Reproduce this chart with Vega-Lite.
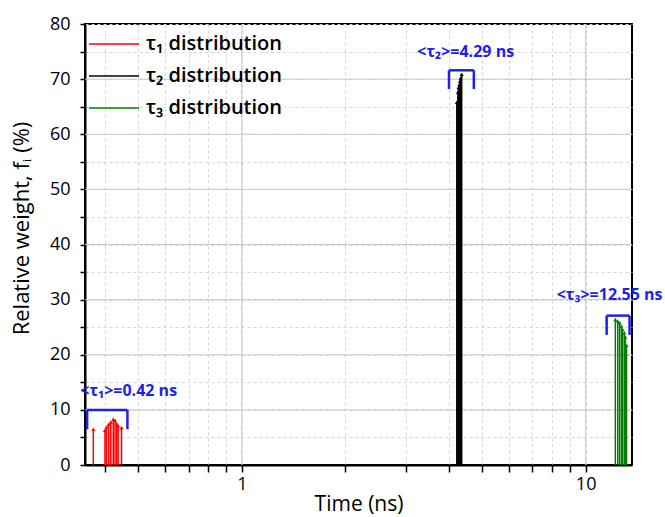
{
  "$schema": "https://vega.github.io/schema/vega-lite/v6.json",
  "width": 547,
  "height": 441,
  "autosize": "none",
  "padding": {"left": 85, "top": 24, "right": 33, "bottom": 52},
  "background": "white",
  "config": {
    "view": {"stroke": "black", "strokeWidth": 2},
    "font": "Open Sans",
    "axis": {"labelFont": "Open Sans", "titleFont": "Open Sans", "labelColor": "black", "titleColor": "black", "titleFontWeight": "normal", "tickColor": "black", "domainColor": "black"}
  },
  "datasets": {
    "spikes": [
      {"series": "τ₁ distribution", "t": 0.370, "w": 6.5},
      {"series": "τ₁ distribution", "t": 0.400, "w": 6.3},
      {"series": "τ₁ distribution", "t": 0.404, "w": 6.9},
      {"series": "τ₁ distribution", "t": 0.410, "w": 7.4},
      {"series": "τ₁ distribution", "t": 0.416, "w": 7.8},
      {"series": "τ₁ distribution", "t": 0.423, "w": 8.3},
      {"series": "τ₁ distribution", "t": 0.428, "w": 8.1},
      {"series": "τ₁ distribution", "t": 0.433, "w": 7.5},
      {"series": "τ₁ distribution", "t": 0.437, "w": 7.1},
      {"series": "τ₁ distribution", "t": 0.447, "w": 6.8},
      {"series": "τ₂ distribution", "t": 4.22, "w": 65.8},
      {"series": "τ₂ distribution", "t": 4.25, "w": 67.6},
      {"series": "τ₂ distribution", "t": 4.27, "w": 68.5},
      {"series": "τ₂ distribution", "t": 4.29, "w": 69.0},
      {"series": "τ₂ distribution", "t": 4.31, "w": 69.6},
      {"series": "τ₂ distribution", "t": 4.33, "w": 70.2},
      {"series": "τ₂ distribution", "t": 4.36, "w": 70.9},
      {"series": "τ₃ distribution", "t": 12.2, "w": 26.4},
      {"series": "τ₃ distribution", "t": 12.4, "w": 26.1},
      {"series": "τ₃ distribution", "t": 12.55, "w": 25.8},
      {"series": "τ₃ distribution", "t": 12.7, "w": 25.2},
      {"series": "τ₃ distribution", "t": 12.8, "w": 24.6},
      {"series": "τ₃ distribution", "t": 12.95, "w": 24.0},
      {"series": "τ₃ distribution", "t": 13.05, "w": 23.2},
      {"series": "τ₃ distribution", "t": 13.15, "w": 21.7}
    ],
    "majorX": [{"v": 1}, {"v": 10}],
    "majorY": [{"v": 10}, {"v": 20}, {"v": 30}, {"v": 40}, {"v": 50}, {"v": 60}, {"v": 70}],
    "brackets": [
      {"x": 0.355, "x2": 0.465, "y": 10, "y2": 10},
      {"x": 0.355, "x2": 0.355, "y": 6.5, "y2": 10},
      {"x": 0.465, "x2": 0.465, "y": 6.5, "y2": 10},
      {"x": 4.005, "x2": 4.73, "y": 71.6, "y2": 71.6},
      {"x": 4.005, "x2": 4.005, "y": 68.2, "y2": 71.6},
      {"x": 4.73, "x2": 4.73, "y": 68.2, "y2": 71.6},
      {"x": 11.51, "x2": 13.42, "y": 27.1, "y2": 27.1},
      {"x": 11.51, "x2": 11.51, "y": 23.6, "y2": 27.1},
      {"x": 13.42, "x2": 13.42, "y": 23.6, "y2": 27.1}
    ],
    "labels": [
      {"t": 0.469, "w": 13.5, "label": "<τ₁>=0.42 ns"},
      {"t": 4.48, "w": 75.0, "label": "<τ₂>=4.29 ns"},
      {"t": 11.74, "w": 30.8, "label": "<τ₃>=12.55 ns"}
    ]
  },
  "layer": [
    {
      "data": {"name": "majorX"},
      "mark": {"type": "rule", "color": "#c8c8c8", "strokeWidth": 1},
      "encoding": {
        "x": {"field": "v", "type": "quantitative"}
      }
    },
    {
      "data": {"name": "majorY"},
      "mark": {"type": "rule", "color": "#c8c8c8", "strokeWidth": 1},
      "encoding": {
        "y": {"field": "v", "type": "quantitative"}
      }
    },
    {
      "data": {"name": "spikes"},
      "mark": {"type": "rule", "strokeWidth": 1.5},
      "encoding": {
        "x": {"field": "t", "type": "quantitative",
          "scale": {"type": "log", "domain": [0.35, 13.64], "nice": false},
          "axis": {"orient": "bottom", "values": [0.4, 0.5, 0.6, 0.7, 0.8, 0.9, 1, 2, 3, 4, 5, 6, 7, 8, 9, 10], "tickCount": 100,
            "labelExpr": "datum.value == 1 || datum.value == 10 ? datum.value : ''",
            "title": "Time (ns)", "titleFontSize": 21, "titlePadding": 0,
            "labelFontSize": 18, "labelPadding": 3, "tickWidth": 1.5, "domainWidth": 2, "tickSize": 7,
            "grid": true, "gridWidth": 1, "gridColor": "#d6d6d6", "gridDash": [3, 3]}},
        "y": {"field": "w", "type": "quantitative",
          "scale": {"domain": [0, 80], "nice": false},
          "axis": {"orient": "left", "values": [0, 5, 10, 15, 20, 25, 30, 35, 40, 45, 50, 55, 60, 65, 70, 75, 80], "tickCount": 100,
            "labelExpr": "datum.value % 10 == 0 ? datum.value : ''",
            "title": "Relative weight, fᵢ (%)", "titleFontSize": 22, "titlePadding": 16, "titleY": 204,
            "labelFontSize": 18, "labelPadding": 10, "tickWidth": 1.5, "domainWidth": 2, "tickSize": 5,
            "grid": true, "gridWidth": 1, "gridColor": "#d6d6d6", "gridDash": [3, 3]}},
        "y2": {"datum": 0},
        "color": {"field": "series", "type": "nominal",
          "scale": {"domain": ["τ₁ distribution", "τ₂ distribution", "τ₃ distribution"], "range": ["#ff0000", "#000000", "#008000"]},
          "legend": {"orient": "none", "legendX": 3, "legendY": 10, "title": null, "symbolType": "stroke", "symbolSize": 2500,
            "symbolStrokeWidth": 1.5, "labelFontSize": 20, "labelFont": "Open Sans", "labelFontWeight": 600, "labelColor": "black",
            "labelOffset": 6, "rowPadding": 12, "clipHeight": 20, "padding": 0}}
      }
    },
    {
      "data": {"name": "spikes"},
      "mark": {"type": "point", "shape": "triangle-up", "filled": true, "size": 16, "opacity": 1},
      "encoding": {
        "x": {"field": "t", "type": "quantitative"},
        "y": {"field": "w", "type": "quantitative"},
        "color": {"field": "series", "type": "nominal", "legend": null}
      }
    },
    {
      "data": {"name": "brackets"},
      "mark": {"type": "rule", "color": "#1f1fe6", "strokeWidth": 2.5},
      "encoding": {
        "x": {"field": "x", "type": "quantitative"},
        "x2": {"field": "x2"},
        "y": {"field": "y", "type": "quantitative"},
        "y2": {"field": "y2"}
      }
    },
    {
      "data": {"name": "labels"},
      "mark": {"type": "text", "color": "#1f1fe6", "font": "Open Sans", "fontWeight": "bold", "fontSize": 16, "align": "center", "baseline": "middle"},
      "encoding": {
        "x": {"field": "t", "type": "quantitative"},
        "y": {"field": "w", "type": "quantitative"},
        "text": {"field": "label"}
      }
    }
  ]
}
